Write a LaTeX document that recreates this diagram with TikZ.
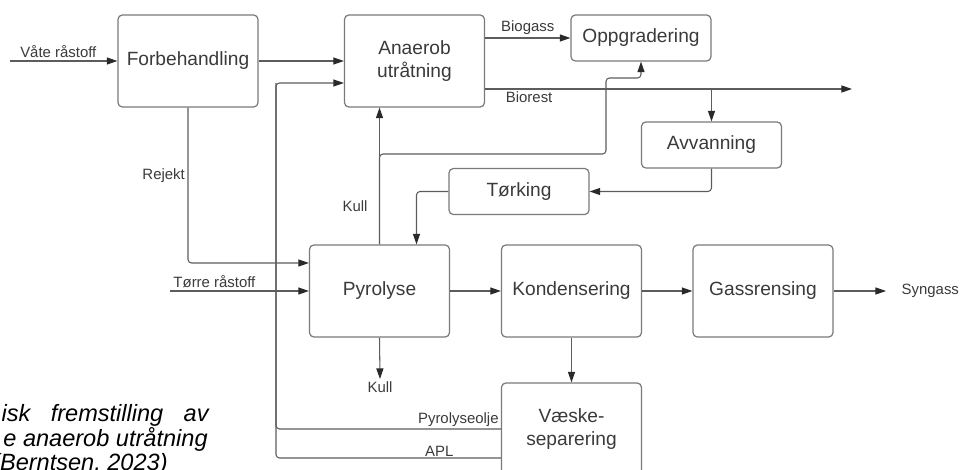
\documentclass[tikz,border=0pt]{standalone}
\usepackage{fontspec}
\setmainfont{Liberation Sans}
\usetikzlibrary{arrows.meta}
\definecolor{linegray}{HTML}{5C5C5C}
\definecolor{boxgray}{HTML}{7A7A7A}
\definecolor{textgray}{HTML}{3A3A3A}
\definecolor{tipgray}{HTML}{2A2A2A}
\begin{document}
\begin{tikzpicture}[x=0.2mm, y=-0.2mm,
    box/.style={draw=boxgray, line width=0.7pt, rounded corners=2.5pt, minimum width=2.8cm, minimum height=1.84cm, align=center, text=textgray, font=\fontsize{10.9}{12.6}\selectfont},
    smallbox/.style={box, minimum height=0.92cm},
    lbl/.style={text=textgray, font=\fontsize{8.5}{10}\selectfont, inner sep=1.5pt},
    flow/.style={draw=linegray, line width=0.6pt, rounded corners=2pt, -{Triangle[length=6pt,width=4pt,color=tipgray]}},
    plain/.style={draw=linegray, line width=0.6pt, rounded corners=2pt},
    capt/.style={font=\fontsize{13.4}{14}\selectfont\itshape, text=black, inner sep=0pt}]
        \clip (0,0) rectangle (965,470);
        %\draw[gray, dashed] (0,0) grid[step=50] (965,470);

        \node[box] (forb) at (188,61) {Forbehandling};
        \node[box] (anaer) at (414.5,61) {Anaerob\\utråtning};
        \node[smallbox] (oppg) at (641,38) {Oppgradering};
        \node[smallbox] (avv) at (711.5,145) {Avvanning};
        \node[smallbox] (tork) at (519,191.5) {Tørking};
        \node[box] (pyro) at (379.5,291) {Pyrolyse};
        \node[box] (kond) at (571.5,291) {Kondensering};
        \node[box] (gass) at (763,291) {Gassrensing};
        \node[box] (vaeske) at (571.5,429) {Væske-\\separering};

        \coordinate (vin) at (10,61);
        \coordinate (tin) at (170,291);
        \coordinate (ret) at (276,83);
        \coordinate (kb) at (606,154);
        \coordinate (kt) at (606,78);
        \coordinate (bout) at (852,89);
        \coordinate (sout) at (886,291);
        \coordinate (kout) at (380,379);

        \draw[flow] (vin) -- node[lbl, above, pos=0.45] (vlbl) {Våte råstoff} (forb.west);
        \draw[flow] (forb) -- (anaer);
        \draw[flow] (forb.south) |- ([yshift=5.6mm]pyro.west) node[lbl, left, pos=0.22] (rlbl) {Rejekt};
        \draw[flow] (tin) -- node[lbl, above, pos=0.32] (tlbl) {Tørre råstoff} (pyro.west);

        % returstrømmer fra væskeseparering
        \draw[flow] (vaeske.west) node[lbl, above left, inner sep=1pt] (plbl) {Pyrolyseolje} -| (ret) -- (ret -| anaer.west);
        \draw[plain] ([yshift=-5.8mm]vaeske.west) -| (ret) node[lbl, above, pos=0.137, inner sep=0.5pt] (albl) {APL};

        \draw[flow] (pyro.north) -- (pyro.north |- anaer.south) node[lbl, left=5pt, pos=0.28] (klbl) {Kull};
        \draw[flow] (pyro.north) |- (kb) -- (kt) -| (oppg.south);

        \draw[flow] (anaer.east |- oppg.west) -- node[lbl, above] (glbl) {Biogass} (oppg.west);
        \draw[flow] (anaer.east |- bout) -- node[lbl, below, pos=0.12] (blbl) {Biorest} (bout);
        \draw[flow] (avv.north |- bout) -- (avv.north);
        \draw[flow] (avv.south) |- (tork.east);
        \draw[flow] (tork.west) -| ([xshift=7.4mm]pyro.north);

        \draw[flow] (pyro) -- (kond);
        \draw[flow] (kond) -- (gass);
        \draw[flow] (gass) -- (sout) node[lbl, right=2.5mm] (slbl) {Syngass};
        \draw[flow] (pyro.south) -- (kout) node[lbl, below] (k2lbl) {Kull};
        \draw[flow] (kond) -- (vaeske);

        \node[capt, anchor=base east] (cap1) at (209,422) {\hbox to 4.14cm{isk\hfill fremstilling\hfill av}};
        \node[capt, anchor=base east] (cap2) at (208,446) {e anaerob utråtning};
        \node[capt, anchor=base east] (cap3) at (168,470) {(Berntsen, 2023)};
    \end{tikzpicture}
\end{document}
